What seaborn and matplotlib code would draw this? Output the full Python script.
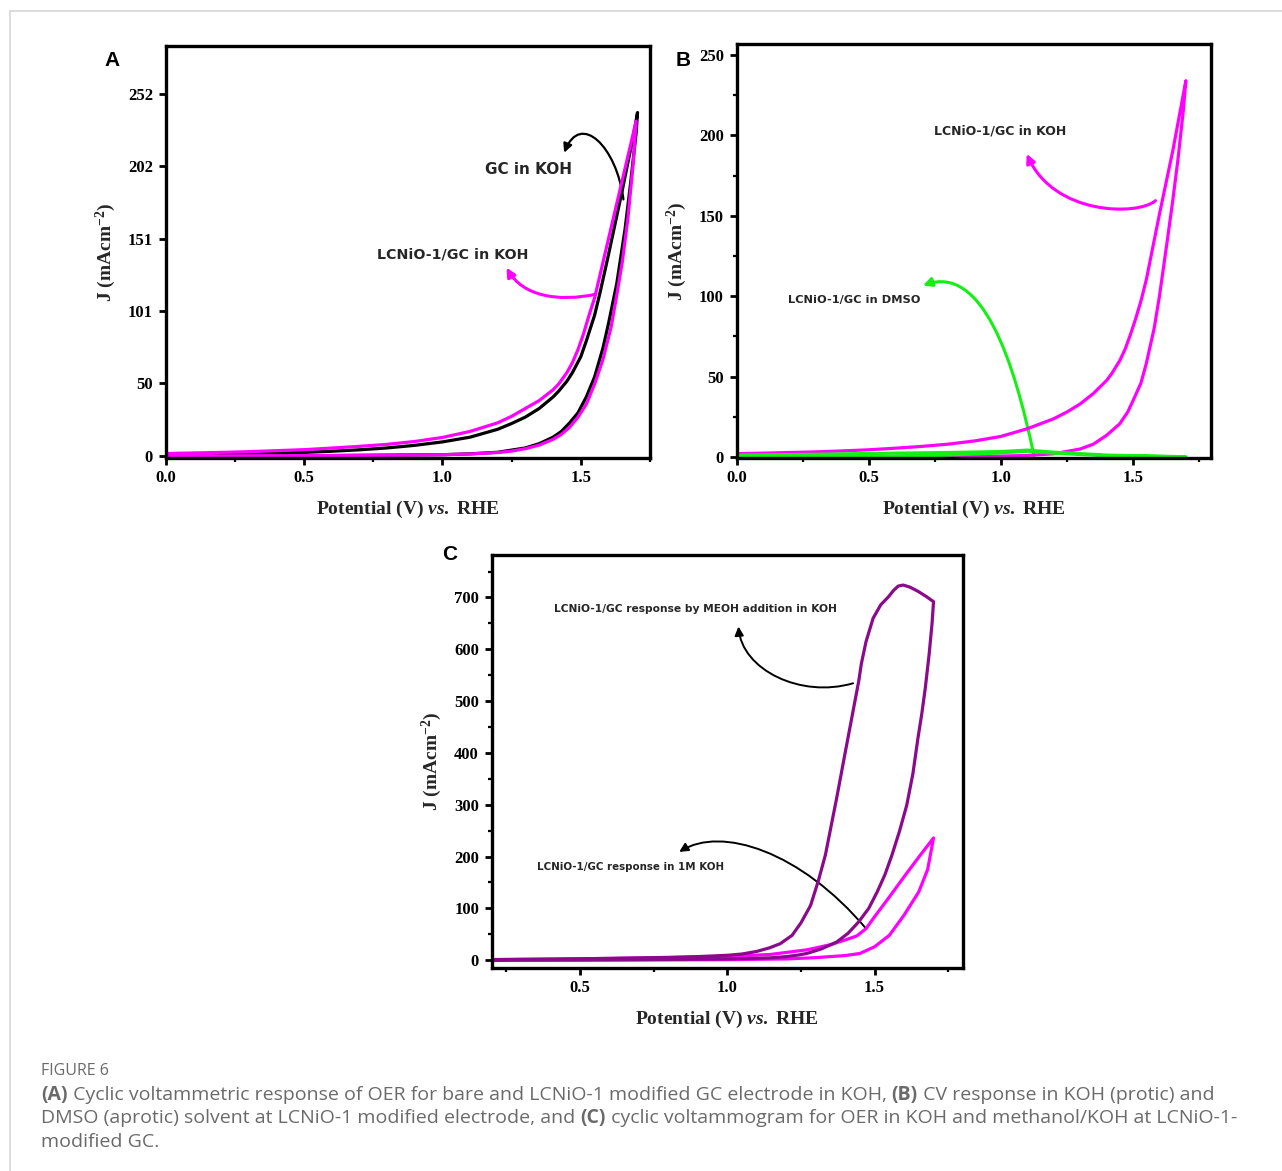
import matplotlib
matplotlib.use("Agg")
import matplotlib.pyplot as plt
import numpy as np
import pandas as pd
import seaborn as sns
from matplotlib.path import Path
from matplotlib.patches import FancyArrowPatch
from matplotlib.lines import Line2D
from matplotlib.ticker import MultipleLocator, FixedLocator, FixedFormatter, FormatStrFormatter

# ---------------- data ----------------
# Panel A : LCNiO-1/GC in KOH (magenta)
A_lc_fwd_V = [0.00, 0.20, 0.40, 0.60, 0.80, 1.00, 1.10, 1.20, 1.25, 1.30, 1.35, 1.40, 1.43, 1.46, 1.49, 1.52, 1.55, 1.58, 1.61, 1.63, 1.65, 1.67, 1.69, 1.70]
A_lc_fwd_J = [0.0, 0.0, 0.1, 0.2, 0.4, 0.8, 1.3, 2.3, 3.3, 5.0, 7.5, 11.5, 15, 20, 27, 36, 50, 67, 90, 112, 135, 165, 205, 233]
A_lc_rev_V = [1.70, 1.65, 1.60, 1.55, 1.53, 1.51, 1.49, 1.47, 1.45, 1.42, 1.40, 1.35, 1.30, 1.25, 1.20, 1.10, 1.00, 0.90, 0.80, 0.70, 0.60, 0.50, 0.40, 0.30, 0.20, 0.10, 0.00]
A_lc_rev_J = [233, 192, 151, 110, 98, 85, 74, 65, 58, 50, 46, 38.5, 33, 27.5, 23, 17, 12.8, 10, 8, 6.6, 5.4, 4.3, 3.6, 2.9, 2.4, 2.0, 1.6]
# Panel A : GC in KOH (black)
A_gc_fwd_V = [0.00, 0.50, 1.00, 1.10, 1.20, 1.30, 1.35, 1.40, 1.43, 1.46, 1.49, 1.52, 1.55, 1.58, 1.60, 1.63, 1.66, 1.68, 1.70, 1.705]
A_gc_fwd_J = [0.0, 0.1, 0.8, 1.4, 2.5, 5.5, 8.5, 13, 17, 23, 30, 41, 55, 75, 92, 120, 158, 190, 225, 239]
A_gc_rev_V = [1.705, 1.69, 1.67, 1.65, 1.62, 1.60, 1.57, 1.55, 1.52, 1.50, 1.47, 1.45, 1.42, 1.40, 1.35, 1.30, 1.25, 1.20, 1.10, 1.00, 0.90, 0.80, 0.70, 0.60, 0.50, 0.40, 0.30, 0.20, 0.10, 0.00]
A_gc_rev_J = [239, 223, 204, 185, 158, 140, 114, 98, 80, 69, 58, 52, 45, 41, 33, 27, 22.5, 18.5, 13, 9.7, 7.3, 5.5, 4.2, 3.2, 2.4, 1.8, 1.3, 0.9, 0.6, 0.4]
A_ytick_vals = [0, 50.4, 100.8, 151.2, 201.6, 252]
A_ytick_labels = ["0", "50", "101", "151", "202", "252"]

# Panel B : LCNiO-1/GC in KOH (magenta)
B_koh_fwd_V = [0.00, 0.50, 1.00, 1.10, 1.20, 1.30, 1.35, 1.40, 1.45, 1.48, 1.50, 1.53, 1.55, 1.58, 1.60, 1.63, 1.65, 1.67, 1.69, 1.70]
B_koh_fwd_J = [0.3, 0.4, 0.6, 1.0, 2.0, 5.0, 8.0, 13.5, 20.7, 28, 35, 46, 58, 80, 100, 135, 159, 185, 215, 234]
B_koh_rev_V = [1.70, 1.65, 1.60, 1.55, 1.53, 1.51, 1.49, 1.47, 1.45, 1.42, 1.40, 1.35, 1.30, 1.25, 1.20, 1.10, 1.00, 0.90, 0.80, 0.70, 0.60, 0.50, 0.40, 0.30, 0.20, 0.10, 0.00]
B_koh_rev_J = [234, 190, 151, 110, 97, 86, 76, 67, 60, 52, 47.6, 39.5, 33, 28, 23.8, 17.6, 12.8, 10, 8, 6.6, 5.5, 4.5, 3.8, 3.2, 2.8, 2.4, 2.1]
# Panel B : LCNiO-1/GC in DMSO (green)
B_dmso_fwd_V = [0.00, 0.30, 0.60, 0.80, 1.00, 1.10, 1.20, 1.40, 1.70]
B_dmso_fwd_J = [0.0, 0.1, 0.3, 1.2, 2.6, 3.6, 2.4, 0.8, 0.1]
B_dmso_rev_V = [1.70, 1.40, 1.20, 1.10, 1.00, 0.80, 0.50, 0.20, 0.00]
B_dmso_rev_J = [0.2, 1.2, 3.0, 4.3, 3.4, 2.8, 2.2, 1.5, 1.2]

# Panel C : LCNiO-1/GC in 1M KOH (magenta)
C_koh_fwd_V = [0.20, 0.60, 1.00, 1.20, 1.30, 1.40, 1.45, 1.50, 1.55, 1.60, 1.65, 1.68, 1.70]
C_koh_fwd_J = [0.0, 0.3, 1.0, 2.5, 5.0, 9.0, 13, 26, 48, 87, 132, 175, 236]
C_koh_rev_V = [1.70, 1.65, 1.60, 1.55, 1.50, 1.471, 1.44, 1.40, 1.35, 1.27, 1.20, 1.144, 1.00, 0.80, 0.60, 0.40, 0.20]
C_koh_rev_J = [236, 199, 161, 122, 84, 61, 47, 39, 30, 20, 15, 11, 7.5, 5.0, 3.5, 2.2, 1.2]
# Panel C : LCNiO-1/GC with MeOH in KOH (purple)
C_meoh_fwd_V = [0.20, 0.40, 0.60, 0.80, 1.00, 1.144, 1.20, 1.24, 1.27, 1.32, 1.371, 1.41, 1.446, 1.48, 1.509, 1.535, 1.559, 1.585, 1.609, 1.63, 1.647, 1.66, 1.672, 1.685, 1.695, 1.70]
C_meoh_fwd_J = [0.0, 0.3, 0.8, 1.5, 2.5, 4.5, 7, 10, 13, 22, 35, 52, 74, 100, 132, 165, 203, 250, 299, 360, 428, 475, 525, 590, 650, 692]
C_meoh_rev_V = [1.70, 1.675, 1.647, 1.62, 1.597, 1.58, 1.565, 1.545, 1.521, 1.495, 1.471, 1.455, 1.446, 1.436, 1.42, 1.40, 1.371, 1.333, 1.31, 1.283, 1.25, 1.22, 1.18, 1.144, 1.10, 1.05, 1.00, 0.90, 0.80, 0.60, 0.40, 0.20]
C_meoh_rev_J = [692, 702, 712, 720, 724, 722, 714, 700, 686, 660, 615, 572, 538, 508, 460, 400, 312, 203, 155, 106, 72, 48, 32, 24, 17, 12, 9.5, 7, 5.5, 3.5, 2.2, 1.2]

X_LABEL = r"Potential (V) $\it{vs.}$ RHE"
Y_LABEL = r"J (mAcm$^{-2}$)"

# ---------------- style ----------------
sns.set_theme(style="white")
plt.rcParams.update({
    "font.family": ["Liberation Serif", "DejaVu Sans"],
    "font.weight": "bold",
    "axes.labelweight": "bold",
    "axes.linewidth": 2.4,
    "axes.edgecolor": "black",
    "xtick.color": "black",
    "ytick.color": "black",
    "xtick.bottom": True,
    "ytick.left": True,
    "mathtext.fontset": "custom",
    "mathtext.rm": "Liberation Serif:bold",
    "mathtext.bf": "Liberation Serif:bold",
    "mathtext.it": "Liberation Serif:italic:bold",
})

MAGENTA = "#FF00FF"
GREEN = "#14F014"
PURPLE = "#8B0A8B"
LW = 2.3

W, H = 1282, 1171
fig = plt.figure(figsize=(W / 100, H / 100), dpi=100)
fig.patch.set_facecolor("white")


def px_axes(left, top, right, bottom):
    return fig.add_axes([left / W, 1 - bottom / H, (right - left) / W, (bottom - top) / H])


def cv_frame(fV, fJ, rV, rJ):
    return pd.DataFrame({"V": list(fV) + list(rV), "J": list(fJ) + list(rJ)})


def draw_cv(ax, df, color):
    sns.lineplot(data=df, x="V", y="J", sort=False, estimator=None, color=color,
                 lw=LW, ax=ax, solid_joinstyle="round", solid_capstyle="round")


def style_axes(ax, xlim, ylim):
    ax.set_xlim(*xlim)
    ax.set_ylim(*ylim)
    ax.xaxis.set_major_locator(MultipleLocator(0.5))
    ax.xaxis.set_minor_locator(MultipleLocator(0.25))
    ax.xaxis.set_major_formatter(FormatStrFormatter("%.1f"))
    ax.tick_params(which="major", direction="out", length=5, width=2, labelsize=12,
                   top=False, right=False, pad=4)
    ax.tick_params(which="minor", direction="out", length=3, width=1.6,
                   top=False, right=False, bottom=True, left=True)
    for s in ax.spines.values():
        s.set_linewidth(2.4)
        s.set_color("black")
    ax.set_xlabel(X_LABEL, fontsize=14, fontweight="bold", labelpad=9)
    ax.set_ylabel(Y_LABEL, fontsize=14, fontweight="bold", labelpad=7)
    for lab in ax.get_xticklabels() + ax.get_yticklabels():
        lab.set_fontweight("bold")
    ax.set_facecolor("white")


def curved_arrow(ax, pts, color, lw=1.6, ms=13):
    path = Path(pts, [Path.MOVETO, Path.CURVE4, Path.CURVE4, Path.CURVE4])
    arr = FancyArrowPatch(path=path, arrowstyle="-|>", mutation_scale=ms,
                          color=color, lw=lw, shrinkA=0, shrinkB=0)
    ax.add_patch(arr)


ANN_FONT = ["DejaVu Sans"]

# ---------------- Panel A ----------------
axA = px_axes(165.5, 46, 650, 458)
draw_cv(axA, cv_frame(A_gc_fwd_V, A_gc_fwd_J, A_gc_rev_V, A_gc_rev_J), "black")
draw_cv(axA, cv_frame(A_lc_fwd_V, A_lc_fwd_J, A_lc_rev_V, A_lc_rev_J), MAGENTA)
style_axes(axA, (0, 1.75), (-1.5, 285.3))
axA.yaxis.set_major_locator(FixedLocator(A_ytick_vals))
axA.yaxis.set_major_formatter(FixedFormatter(A_ytick_labels))
axA.yaxis.set_minor_locator(FixedLocator([]))
axA.text(1.312, 199.4, "GC in KOH", ha="center", va="center", fontsize=11,
         family=ANN_FONT, fontweight="bold")
axA.text(1.037, 140.3, "LCNiO-1/GC in KOH", ha="center", va="center", fontsize=10.3,
         family=ANN_FONT, fontweight="bold")
curved_arrow(axA, [(1.654, 178.5), (1.63, 215), (1.50, 240), (1.44, 211)], "black", lw=1.6)
curved_arrow(axA, [(1.554, 112.5), (1.42, 107), (1.29, 111), (1.232, 131)], MAGENTA, lw=2.2)

# ---------------- Panel B ----------------
axB = px_axes(736.5, 44, 1211, 458)
draw_cv(axB, cv_frame(B_koh_fwd_V, B_koh_fwd_J, B_koh_rev_V, B_koh_rev_J), MAGENTA)
draw_cv(axB, cv_frame(B_dmso_fwd_V, B_dmso_fwd_J, B_dmso_rev_V, B_dmso_rev_J), GREEN)
style_axes(axB, (0, 1.795), (-0.6, 256.8))
axB.yaxis.set_major_locator(MultipleLocator(50))
axB.yaxis.set_minor_locator(MultipleLocator(25))
axB.yaxis.set_major_formatter(FormatStrFormatter("%d"))
axB.text(0.999, 202.8, "LCNiO-1/GC in KOH", ha="center", va="center", fontsize=9,
         family=ANN_FONT, fontweight="bold")
axB.text(0.447, 97.7, "LCNiO-1/GC in DMSO", ha="center", va="center", fontsize=8.2,
         family=ANN_FONT, fontweight="bold")
curved_arrow(axB, [(1.585, 159.4), (1.52, 150), (1.20, 150), (1.098, 188.5)], MAGENTA, lw=2.2)
curved_arrow(axB, [(1.125, 1.0), (1.05, 60), (0.93, 120), (0.705, 106.6)], GREEN, lw=2.2)

# ---------------- Panel C ----------------
axC = px_axes(491.5, 555, 963, 968)
draw_cv(axC, cv_frame(C_koh_fwd_V, C_koh_fwd_J, C_koh_rev_V, C_koh_rev_J), MAGENTA)
draw_cv(axC, cv_frame(C_meoh_fwd_V, C_meoh_fwd_J, C_meoh_rev_V, C_meoh_rev_J), PURPLE)
style_axes(axC, (0.2, 1.8), (-15, 782))
axC.yaxis.set_major_locator(MultipleLocator(100))
axC.yaxis.set_minor_locator(MultipleLocator(50))
axC.yaxis.set_major_formatter(FormatStrFormatter("%d"))
axC.text(0.891, 677.4, "LCNiO-1/GC response by MEOH addition in KOH", ha="center", va="center",
         fontsize=7.7, family=ANN_FONT, fontweight="bold")
axC.text(0.671, 179, "LCNiO-1/GC response in 1M KOH", ha="center", va="center",
         fontsize=7.4, family=ANN_FONT, fontweight="bold")
curved_arrow(axC, [(1.427, 534.5), (1.25, 505), (1.05, 560), (1.038, 644)], "black", lw=1.4)
curved_arrow(axC, [(1.471, 61), (1.25, 210), (0.98, 260), (0.837, 209)], "black", lw=1.4)

# ---------------- panel letters ----------------
for lbl, (x, y) in zip(["A", "B", "C"], [(112, 60), (683, 60), (450, 554)]):
    fig.text(x / W, 1 - y / H, lbl, ha="center", va="center", fontsize=15,
             family=["Liberation Sans"], fontweight="bold", color="black")

# ---------------- frame lines ----------------
fig.add_artist(Line2D([10 / W, 1.0], [1 - 11 / H, 1 - 11 / H], color="#d6d6d6", lw=1.2))
fig.add_artist(Line2D([10 / W, 10 / W], [1 - 11 / H, 0.0], color="#d6d6d6", lw=1.2))

# ---------------- caption ----------------
CAP_COLOR = "#6a6a6a"
CAP_FONT = ["Open Sans", "DejaVu Sans"]
CAP_SIZE = 14.0
fig.text(41 / W, 1 - 1075 / H, "FIGURE 6", ha="left", va="baseline", fontsize=11.5,
         family=CAP_FONT, fontweight="normal", color=CAP_COLOR)

caption_lines = [
    [("(A)", True), (" Cyclic voltammetric response of OER for bare and LCNiO-1 modified GC electrode in KOH, ", False),
     ("(B)", True), (" CV response in KOH (protic) and", False)],
    [("DMSO (aprotic) solvent at LCNiO-1 modified electrode, and ", False), ("(C)", True),
     (" cyclic voltammogram for OER in KOH and methanol/KOH at LCNiO-1-", False)],
    [("modified GC.", False)],
]
baselines = [1100, 1123, 1147]

fig.canvas.draw()
renderer = fig.canvas.get_renderer()


def seg_width(s, bold):
    t1 = fig.text(0, 0, s + "|", fontsize=CAP_SIZE, family=CAP_FONT,
                  fontweight="bold" if bold else "normal")
    t2 = fig.text(0, 0, "|", fontsize=CAP_SIZE, family=CAP_FONT,
                  fontweight="bold" if bold else "normal")
    w = t1.get_window_extent(renderer).width - t2.get_window_extent(renderer).width
    t1.remove()
    t2.remove()
    return w


for segs, yb in zip(caption_lines, baselines):
    x = 41.0
    for s, bold in segs:
        fig.text(x / W, 1 - yb / H, s, ha="left", va="baseline", fontsize=CAP_SIZE,
                 family=CAP_FONT, fontweight="bold" if bold else "normal", color=CAP_COLOR)
        x += seg_width(s, bold)

fig.savefig("out.png", dpi=100, facecolor="white")
